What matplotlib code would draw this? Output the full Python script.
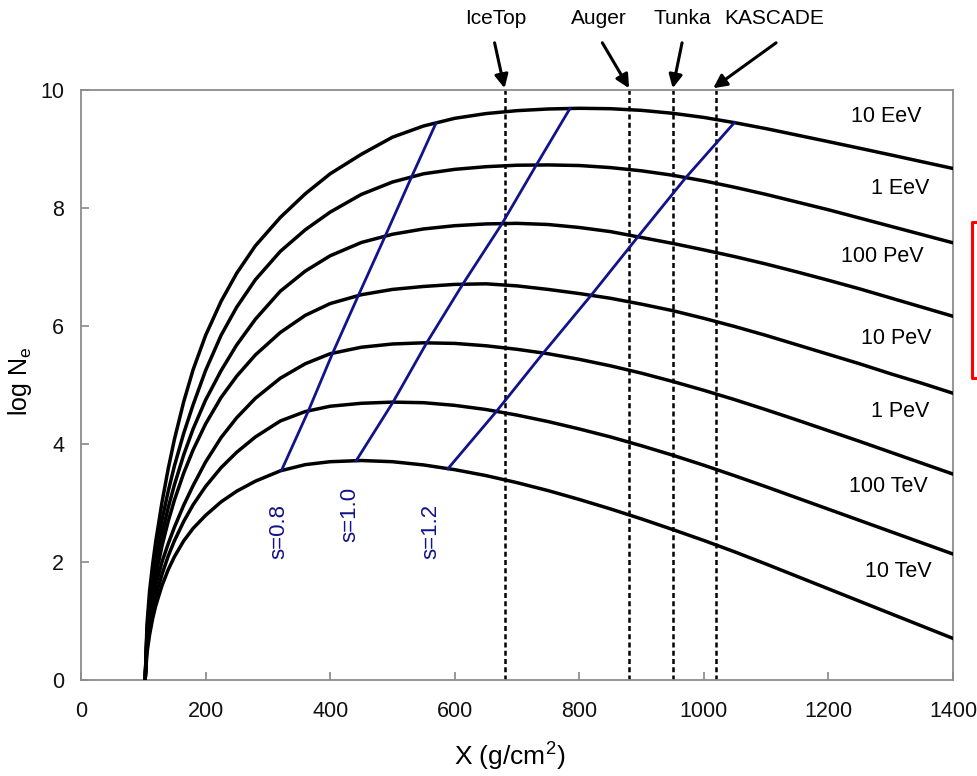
import matplotlib
matplotlib.use('Agg')
import matplotlib.pyplot as plt
from matplotlib.lines import Line2D

plt.rcParams['font.family'] = ['Liberation Sans', 'DejaVu Sans']
plt.rcParams['mathtext.fontset'] = 'custom'
plt.rcParams['mathtext.rm'] = 'Liberation Sans'
plt.rcParams['mathtext.it'] = 'Liberation Sans:italic'

# ---- data ----
depth = [103, 106, 110, 115, 120, 130, 140, 150, 165, 180, 200, 225, 250, 280,
         320, 360, 400, 450, 500, 550, 600, 650, 700, 750, 800, 850, 900, 950,
         1000, 1050, 1100, 1150, 1200, 1250, 1300, 1350, 1400]

ne_10TeV = [0, 0.46, 0.76, 1.04, 1.26, 1.60, 1.87, 2.09, 2.36, 2.57, 2.79, 3.02, 3.20, 3.37,
            3.545, 3.65, 3.70, 3.72, 3.70, 3.645, 3.565, 3.465, 3.345, 3.21, 3.06, 2.90, 2.73, 2.55,
            2.365, 2.17, 1.965, 1.755, 1.545, 1.335, 1.125, 0.915, 0.705]
ne_100TeV = [0, 0.59, 0.90, 1.19, 1.42, 1.79, 2.10, 2.36, 2.69, 2.97, 3.28, 3.60, 3.86, 4.12,
             4.39, 4.55, 4.64, 4.69, 4.71, 4.70, 4.655, 4.585, 4.49, 4.38, 4.255, 4.12, 3.97, 3.81,
             3.64, 3.46, 3.275, 3.085, 2.895, 2.705, 2.515, 2.325, 2.135]
ne_1PeV = [0, 0.68, 1.02, 1.33, 1.60, 2.00, 2.31, 2.59, 2.965, 3.295, 3.695, 4.11, 4.445, 4.775,
           5.115, 5.36, 5.53, 5.64, 5.695, 5.715, 5.705, 5.665, 5.605, 5.53, 5.435, 5.325, 5.20, 5.06,
           4.91, 4.75, 4.58, 4.405, 4.225, 4.045, 3.86, 3.675, 3.49]
ne_10PeV = [0, 0.73, 1.11, 1.47, 1.77, 2.27, 2.69, 3.05, 3.51, 3.90, 4.34, 4.79, 5.15, 5.51,
            5.89, 6.18, 6.38, 6.53, 6.62, 6.67, 6.705, 6.715, 6.68, 6.62, 6.55, 6.47, 6.37, 6.26,
            6.13, 5.99, 5.84, 5.68, 5.52, 5.36, 5.19, 5.03, 4.86]
ne_100PeV = [0, 0.80, 1.24, 1.62, 1.94, 2.47, 2.92, 3.31, 3.82, 4.255, 4.745, 5.245, 5.68, 6.115,
             6.59, 6.93, 7.19, 7.415, 7.555, 7.645, 7.70, 7.73, 7.74, 7.72, 7.67, 7.60, 7.50, 7.40,
             7.29, 7.175, 7.05, 6.915, 6.775, 6.63, 6.475, 6.32, 6.165]
ne_1EeV = [0, 0.85, 1.35, 1.78, 2.13, 2.71, 3.20, 3.63, 4.185, 4.665, 5.245, 5.845, 6.32, 6.785,
           7.265, 7.63, 7.93, 8.23, 8.44, 8.58, 8.655, 8.70, 8.725, 8.73, 8.72, 8.685, 8.63, 8.555,
           8.46, 8.35, 8.23, 8.10, 7.97, 7.83, 7.69, 7.55, 7.41]
ne_10EeV = [0, 0.95, 1.50, 1.96, 2.35, 3.01, 3.58, 4.08, 4.72, 5.26, 5.84, 6.42, 6.895, 7.36,
            7.84, 8.24, 8.58, 8.91, 9.20, 9.39, 9.52, 9.60, 9.65, 9.678, 9.69, 9.683, 9.655, 9.605,
            9.535, 9.445, 9.345, 9.235, 9.125, 9.013, 8.90, 8.785, 8.67]

energy_labels = ['10 TeV', '100 TeV', '1 PeV', '10 PeV', '100 PeV', '1 EeV', '10 EeV']
label_x = [1312, 1296, 1315, 1309, 1286, 1315, 1293]
label_y = [1.84, 3.28, 4.55, 5.79, 7.17, 8.33, 9.55]

# shower-age lines (intersections with the profiles)
s08_x = [322, 365, 404, 445, 488, 530, 570]
s08_y = [3.555, 4.56, 5.54, 6.51, 7.515, 8.51, 9.44]
s10_x = [442, 501, 555, 613, 676, 731, 785]
s10_y = [3.72, 4.71, 5.715, 6.71, 7.735, 8.728, 9.686]
s12_x = [589, 667, 742, 819, 894, 971, 1049]
s12_y = [3.58, 4.553, 5.54, 6.52, 7.51, 8.515, 9.447]
age_labels = ['s=0.8', 's=1.0', 's=1.2']
age_label_x = [317, 432, 561]
age_label_y = [2.51, 2.80, 2.51]

# observation depths of experiments
exp_names = ['IceTop', 'Auger', 'Tunka', 'KASCADE']
exp_depth = [680, 880, 950, 1020]
exp_text_x = [666, 832, 965, 1113]
exp_tail_x = [664, 837, 965, 1116]
exp_tip_x = [680, 880, 950, 1015]

xticks = [0, 200, 400, 600, 800, 1000, 1200, 1400]
yticks = [0, 2, 4, 6, 8, 10]

# ---- figure ----
W, H = 977, 776
fig = plt.figure(figsize=(W / 100, H / 100), dpi=100)
ax = fig.add_axes([81 / W, 1 - 680 / H, 872 / W, 590 / H])
ax.set_xlim(0, 1400)
ax.set_ylim(0, 10)

curves = [ne_10TeV, ne_100TeV, ne_1PeV, ne_10PeV, ne_100PeV, ne_1EeV, ne_10EeV]
for c in curves:
    ax.plot(depth, c, color='black', lw=2.5, zorder=3, solid_joinstyle='round')

blue = '#12128a'
for xs, ys in [(s08_x, s08_y), (s10_x, s10_y), (s12_x, s12_y)]:
    ax.plot(xs, ys, color=blue, lw=2.0, zorder=4)
for t, x, y in zip(age_labels, age_label_x, age_label_y):
    ax.text(x, y, t, rotation=90, ha='center', va='center', color=blue, fontsize=16)

for x in exp_depth:
    ax.plot([x, x], [0, 10], color='black', lw=1.8, ls=(0, (2.0, 1.3)), zorder=2)

for t, d, tx, tl, tp in zip(exp_names, exp_depth, exp_text_x, exp_tail_x, exp_tip_x):
    ax.text(tx, 11.22, t, ha='center', va='center', fontsize=15, clip_on=False)
    ax.annotate('', xy=(tp, 10.03), xytext=(tl, 10.8),
                arrowprops=dict(arrowstyle='-|>', color='black', lw=2.2,
                                mutation_scale=20, shrinkA=0, shrinkB=0),
                annotation_clip=False)

for t, x, y in zip(energy_labels, label_x, label_y):
    ax.text(x, y, t, ha='center', va='center', fontsize=15.5)

ax.set_xticks(xticks)
ax.set_yticks(yticks)
ax.tick_params(direction='in', length=6, width=1.2, color='#888888',
               labelsize=15.5, labelcolor='#111111')
ax.tick_params(axis='y', pad=12)
ax.tick_params(axis='x', pad=15)
for sp in ax.spines.values():
    sp.set_color('#8c8c8c')
    sp.set_linewidth(1.3)

fig.text(510 / W, 1 - 757 / H, 'X (g/cm$^2$)', ha='center', va='center', fontsize=19)
fig.text(20 / W, 1 - 381 / H, 'log N$_\\mathrm{e}$', ha='center', va='center',
         rotation=90, fontsize=18)

# red bracket at the right edge
fig.add_artist(Line2D([980 / W, 972 / W, 972 / W, 980 / W],
                      [1 - 222 / H, 1 - 222 / H, 1 - 378 / H, 1 - 378 / H],
                      color='red', lw=2.2, transform=fig.transFigure))

fig.savefig('out.png', dpi=100)
